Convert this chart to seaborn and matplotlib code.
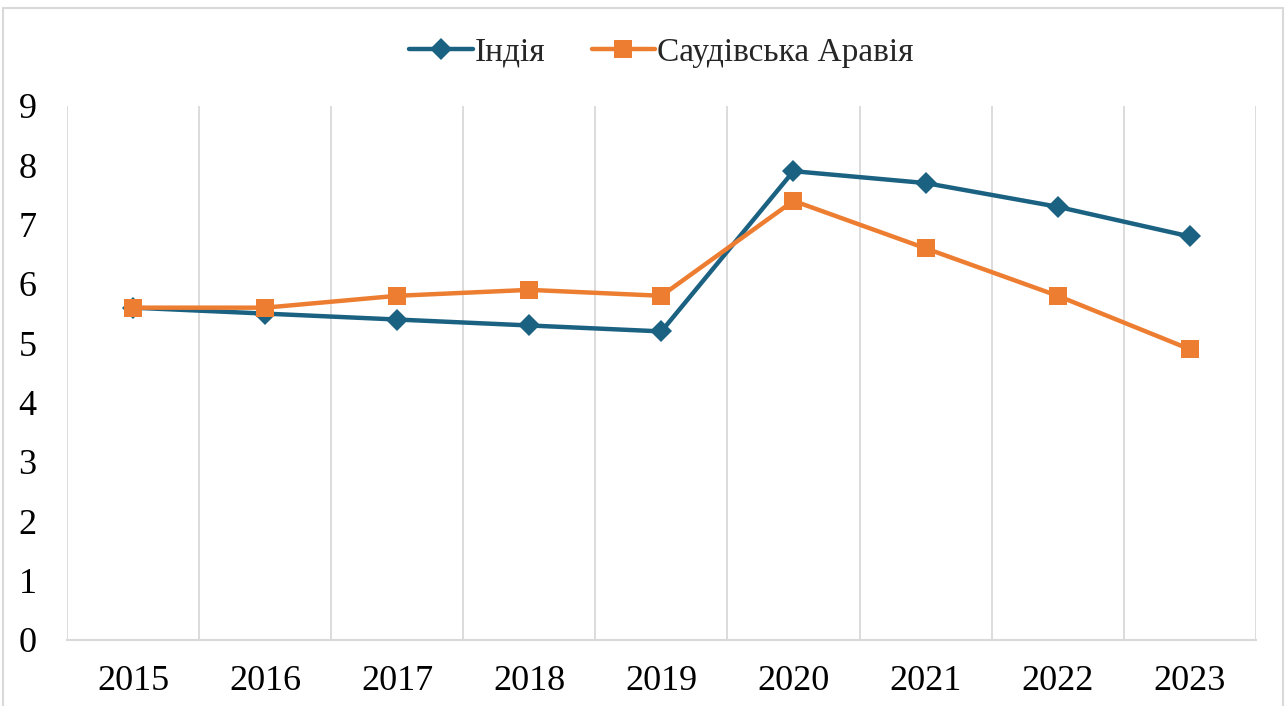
import matplotlib
matplotlib.use("Agg")
import matplotlib.pyplot as plt
import seaborn as sns
import pandas as pd
from matplotlib.patches import Rectangle

years = ["2015", "2016", "2017", "2018", "2019", "2020", "2021", "2022", "2023"]
india = [5.6, 5.5, 5.4, 5.3, 5.2, 7.9, 7.7, 7.3, 6.8]
saudi = [5.6, 5.6, 5.8, 5.9, 5.8, 7.4, 6.6, 5.8, 4.9]
series_names = ["Індія", "Саудівська Аравія"]
y_ticks = [0, 1, 2, 3, 4, 5, 6, 7, 8, 9]

df = pd.DataFrame({
    "year": years * 2,
    "value": india + saudi,
    "series": [series_names[0]] * len(years) + [series_names[1]] * len(years),
})

sns.set_theme(style="white")
plt.rcParams['font.family'] = ['Liberation Serif', 'DejaVu Serif']

fig = plt.figure(figsize=(12.88, 7.06), dpi=100)
ax = fig.add_axes([0.052, 0.0935, 0.923, 0.7565])

palette = {series_names[0]: "#1B6282", series_names[1]: "#ED7D31"}
markers = {series_names[0]: "D", series_names[1]: "s"}
sizes_m = {series_names[0]: 11, series_names[1]: 13.5}

sns.lineplot(data=df, x="year", y="value", hue="series", style="series",
             palette=palette, markers=markers, dashes=False, linewidth=3.2,
             markersize=11, markeredgewidth=0, ax=ax, sort=False, legend=True)

for line, name in zip(ax.lines[:2], series_names):
    line.set_markersize(sizes_m[name])

ax.set_xlim(-0.5, len(years) - 0.5)
ax.set_ylim(0, 9)
ax.set_yticks(y_ticks)
ax.set_xlabel("")
ax.set_ylabel("")

# vertical gridlines at category boundaries
for b in range(len(years) + 1):
    ax.axvline(b - 0.5, color="#D9D9D9", linewidth=1.3, zorder=0)

for s in ["top", "right", "left"]:
    ax.spines[s].set_visible(False)
ax.spines["bottom"].set_color("#D9D9D9")
ax.spines["bottom"].set_linewidth(1.5)

ax.tick_params(axis="both", length=0, labelsize=26, colors="black")
ax.tick_params(axis="x", pad=18)
ax.tick_params(axis="y", pad=22)

handles, labels = ax.get_legend_handles_labels()
for h, name in zip(handles, labels):
    if name in sizes_m:
        h.set_markersize(sizes_m[name])
leg = ax.legend(handles, labels, loc="center", bbox_to_anchor=(0.5, 1.10),
                ncol=2, frameon=False, fontsize=24, handlelength=1.9,
                handletextpad=0.05, columnspacing=1.4)

fig.patches.append(Rectangle((3/1288, -0.01), 1280/1288, 1 - 8/706 + 0.01,
                             transform=fig.transFigure, fill=False,
                             edgecolor="#D9D9D9", linewidth=1.5))

fig.savefig("out.png", dpi=100)
